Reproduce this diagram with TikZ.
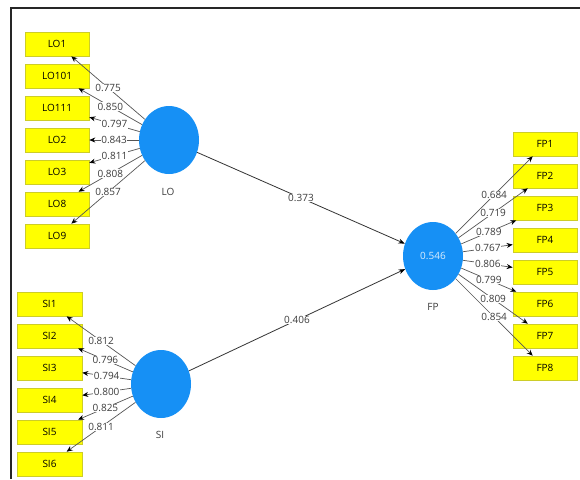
\documentclass[tikz,border=0pt]{standalone}
\usepackage{fontspec}
\setmainfont{Open Sans}
\usetikzlibrary{shapes.geometric,arrows.meta}
\definecolor{lvblue}{RGB}{22,144,245}
\definecolor{indyellow}{RGB}{255,255,0}
\definecolor{indborder}{RGB}{205,205,40}
\definecolor{lblgray}{RGB}{60,60,60}
\definecolor{linegray}{RGB}{85,85,85}
\tikzset{
  ind/.style={rectangle, fill=indyellow, draw=indborder, line width=0.6pt, minimum width=64pt, minimum height=24pt, inner sep=0pt, text=black, font=\fontsize{10}{11}\selectfont},
  lv/.style={ellipse, fill=lvblue, draw=none, minimum width=60pt, minimum height=68pt, inner sep=0pt},
  lvname/.style={font=\fontsize{10}{11}\selectfont, text=lblgray},
  load/.style={draw=linegray, line width=0.7pt, -{Stealth[length=6pt,width=5pt,black]}},
  path/.style={draw=black!80, line width=0.8pt, -{Stealth[length=6.5pt,width=5pt,black]}},
  wt/.style={midway, fill=white, inner sep=0.6pt, text=lblgray, font=\fontsize{10}{11}\selectfont}
}
\begin{document}
\begin{tikzpicture}[x=1pt,y=-1pt]
\useasboundingbox (0,0) rectangle (580,479);
\fill[white] (0,0) rectangle (580,479);
\draw[line width=2pt, black!85] (580,8) -- (11,8) -- (11,479);

% latent variables
\node[lv] (LO) at (169,140) {};
\node[lv] (SI) at (161,384) {};
\node[lv, text=white!85!lvblue, font=\fontsize{10}{11}\selectfont] (FP) at (433,256) {0.546};
\node[lvname] (LOn) at (168,192) {LO};
\node[lvname] (SIn) at (160,435) {SI};
\node[lvname] (FPn) at (433,307) {FP};

% LO indicators
\node[ind] (LO1) at (57,44) {LO1};
\node[ind] (LO101) at (57,76) {LO101};
\node[ind] (LO111) at (57,108) {LO111};
\node[ind] (LO2) at (57,140) {LO2};
\node[ind] (LO3) at (57,172) {LO3};
\node[ind] (LO8) at (57,204) {LO8};
\node[ind] (LO9) at (57,236) {LO9};

% SI indicators
\node[ind, minimum width=65pt] (SI1) at (49.5,304) {SI1};
\node[ind, minimum width=65pt] (SI2) at (49.5,336) {SI2};
\node[ind, minimum width=65pt] (SI3) at (49.5,368) {SI3};
\node[ind, minimum width=65pt] (SI4) at (49.5,400) {SI4};
\node[ind, minimum width=65pt] (SI5) at (49.5,432) {SI5};
\node[ind, minimum width=65pt] (SI6) at (49.5,464) {SI6};

% FP indicators
\node[ind] (FP1) at (545,144) {FP1};
\node[ind] (FP2) at (545,176) {FP2};
\node[ind] (FP3) at (545,208) {FP3};
\node[ind] (FP4) at (545,240) {FP4};
\node[ind] (FP5) at (545,272) {FP5};
\node[ind] (FP6) at (545,304) {FP6};
\node[ind] (FP7) at (545,336) {FP7};
\node[ind] (FP8) at (545,368) {FP8};

% structural paths
\draw[path] (LO) -- node[wt] {0.373} (FP);
\draw[path] (SI) -- node[wt] {0.406} (FP);

% LO loadings
\draw[load] (LO) -- node[wt] {0.775} (LO1);
\draw[load] (LO) -- node[wt] {0.850} (LO101);
\draw[load] (LO) -- node[wt] {0.797} (LO111);
\draw[load] (LO) -- node[wt] {0.843} (LO2);
\draw[load] (LO) -- node[wt] {0.811} (LO3);
\draw[load] (LO) -- node[wt] {0.808} (LO8);
\draw[load] (LO) -- node[wt] {0.857} (LO9);

% SI loadings
\draw[load] (SI) -- node[wt] {0.812} (SI1);
\draw[load] (SI) -- node[wt] {0.796} (SI2);
\draw[load] (SI) -- node[wt] {0.794} (SI3);
\draw[load] (SI) -- node[wt] {0.800} (SI4);
\draw[load] (SI) -- node[wt] {0.825} (SI5);
\draw[load] (SI) -- node[wt] {0.811} (SI6);

% FP loadings
\draw[load] (FP) -- node[wt] {0.684} (FP1);
\draw[load] (FP) -- node[wt] {0.719} (FP2);
\draw[load] (FP) -- node[wt] {0.789} (FP3);
\draw[load] (FP) -- node[wt] {0.767} (FP4);
\draw[load] (FP) -- node[wt] {0.806} (FP5);
\draw[load] (FP) -- node[wt] {0.799} (FP6);
\draw[load] (FP) -- node[wt] {0.809} (FP7);
\draw[load] (FP) -- node[wt] {0.854} (FP8);
\end{tikzpicture}
\end{document}
